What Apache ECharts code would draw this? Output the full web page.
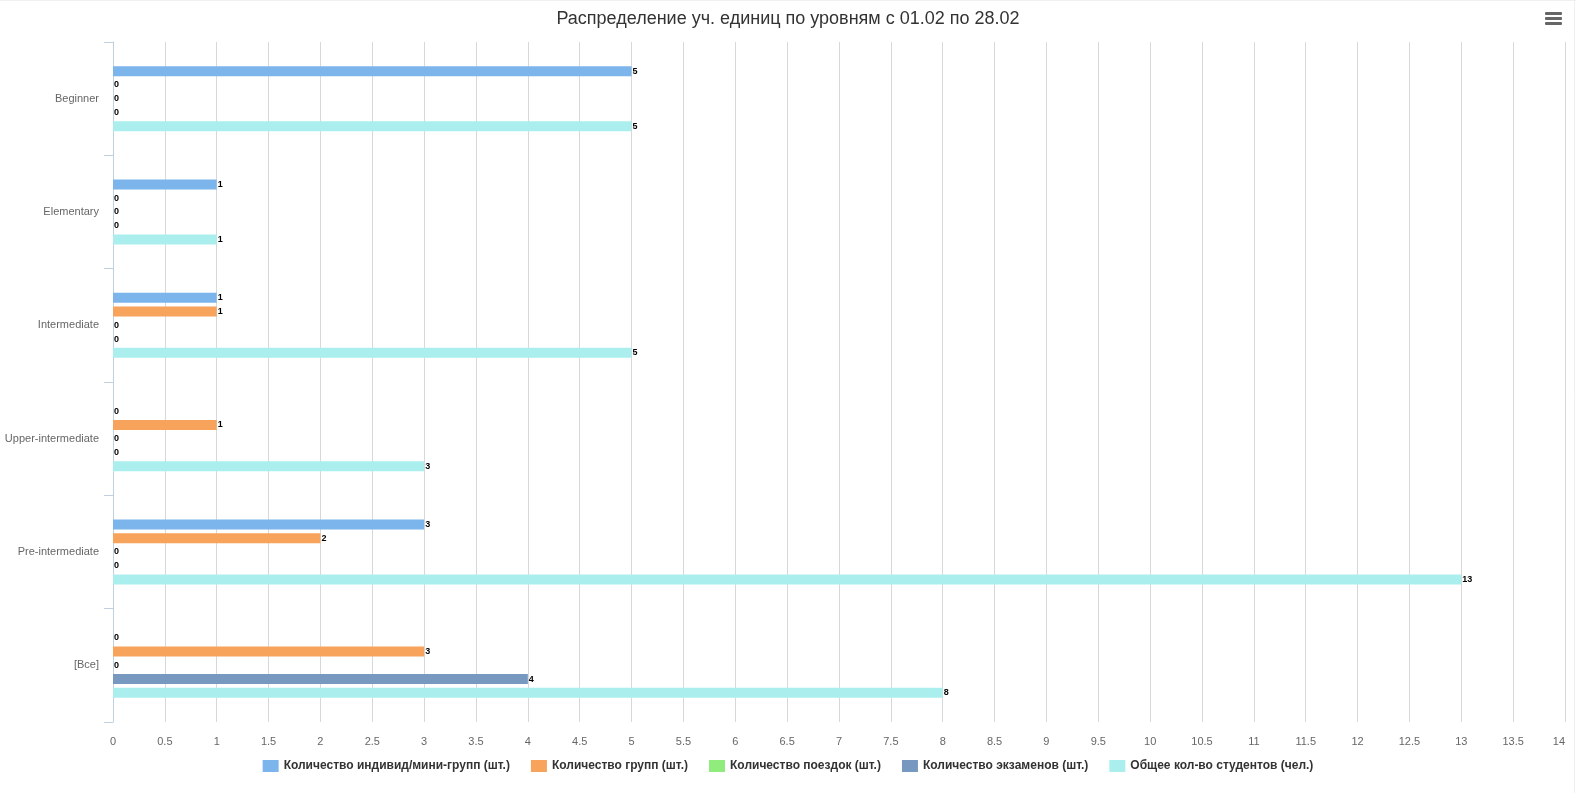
<!DOCTYPE html>
<html>
<head>
<meta charset="utf-8">
<title>Распределение уч. единиц</title>
<script src="https://cdn.jsdelivr.net/npm/echarts@6/dist/echarts.min.js"></script>
<style>
  html, body { margin: 0; padding: 0; background: #fff; }
  #chart { width: 1576px; height: 793px; }
</style>
</head>
<body>
<div id="chart"></div>
<script>
// уровни (сверху вниз)
const levels = ["Beginner", "Elementary", "Intermediate", "Upper-intermediate", "Pre-intermediate", "[Все]"];

// значения по сериям
const individGroups = [5, 1, 1, 0, 3, 0];
const groups = [0, 0, 1, 1, 2, 3];
const trips = [0, 0, 0, 0, 0, 0];
const exams = [0, 0, 0, 0, 0, 4];
const students = [5, 1, 5, 3, 13, 8];

const seriesNames = [
  "Количество индивид/мини-групп (шт.)",
  "Количество групп (шт.)",
  "Количество поездок (шт.)",
  "Количество экзаменов (шт.)",
  "Общее кол-во студентов (чел.)",
];
const colors = ["#7cb5ec", "#f7a35c", "#90ed7d", "#7798BF", "#aaeeee"];
const seriesData = [individGroups, groups, trips, exams, students];

const font = "'Liberation Sans', Arial, sans-serif";

const chart = echarts.init(document.getElementById("chart"));

const series = seriesData.map((data, i) => ({
  name: seriesNames[i],
  type: "bar",
  data: data,
  barWidth: 10,
  barGap: "37.5%",
  itemStyle: { color: colors[i] },
  label: {
    show: true,
    position: "right",
    distance: 1,
    color: "#000",
    fontSize: 9,
    fontWeight: "bold",
    fontFamily: font,
  },
}));

// меню в правом верхнем углу
const menuBars = [12, 17, 22].map((y) => ({
  type: "rect",
  shape: { x: 1545, y: y, width: 17, height: 3, r: 1 },
  style: { fill: "#666" },
}));

const option = {
  animation: false,
  color: colors,
  title: {
    text: "Распределение уч. единиц по уровням с 01.02 по 28.02",
    left: "center",
    top: 5,
    textStyle: {
      color: "#333",
      fontSize: 18,
      fontWeight: "normal",
      fontFamily: font,
    },
  },
  legend: {
    bottom: 16,
    left: "center",
    itemWidth: 16,
    itemHeight: 12,
    itemGap: 21,
    icon: "rect",
    textStyle: {
      color: "#333",
      fontSize: 12,
      fontWeight: "bold",
      fontFamily: font,
    },
  },
  grid: {
    left: 113,
    right: 11,
    top: 42,
    bottom: 71,
    containLabel: false,
  },
  xAxis: {
    type: "value",
    min: 0,
    max: 14,
    interval: 0.5,
    axisLine: { show: false },
    axisTick: { show: false },
    axisLabel: {
      color: "#666",
      fontSize: 11,
      fontFamily: font,
      margin: 14,
      alignMaxLabel: "right",
    },
    splitLine: { lineStyle: { color: "#D8D8D8", width: 1 } },
  },
  yAxis: {
    type: "category",
    data: levels,
    inverse: true,
    axisLine: { show: true, lineStyle: { color: "#C0D0E0" } },
    axisTick: { show: true, length: 9, lineStyle: { color: "#C0D0E0" } },
    axisLabel: {
      color: "#666",
      fontSize: 11,
      fontFamily: font,
      margin: 14,
    },
    splitLine: { show: false },
  },
  graphic: menuBars.concat([
    { type: "line", shape: { x1: 0, y1: 0.5, x2: 1576, y2: 0.5 }, style: { stroke: "#f0f0f0" } },
    { type: "line", shape: { x1: 1574.5, y1: 0, x2: 1574.5, y2: 793 }, style: { stroke: "#f0f0f0" } },
  ]),
  series: series,
};

chart.setOption(option);
</script>
</body>
</html>
